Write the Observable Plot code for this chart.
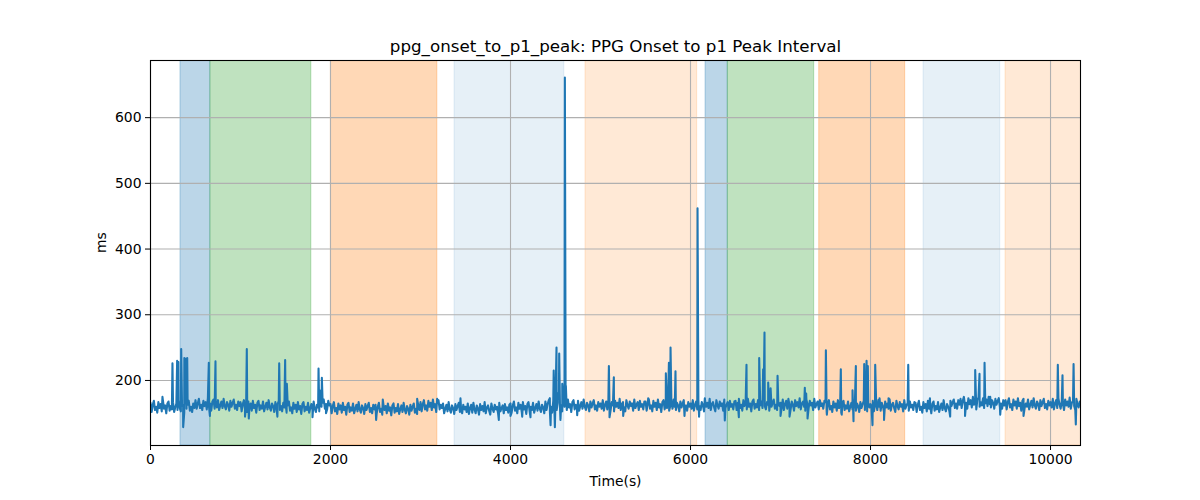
<!DOCTYPE html>
<html><head><meta charset="utf-8">
<script src="https://cdn.jsdelivr.net/npm/d3@7"></script>
<script src="https://cdn.jsdelivr.net/npm/@observablehq/plot@0.6"></script>
<style>body{margin:0;background:#fff;}</style>
</head><body><div id="chart"></div>
<script>
const title = "ppg_onset_to_p1_peak: PPG Onset to p1 Peak Interval";
const xLabel = "Time(s)";
const yLabel = "ms";
const xTicks = [0, 2000, 4000, 6000, 8000, 10000];
const yTicks = [200, 300, 400, 500, 600];

// baseline samples, every 12.5 s (one row = 500 s)
const step = 12.5;
const baseline = [
166,152,163,169,155,160,151,167,158,164,153,170,157,162,150,165,168,154,161,156,167,152,159,165,155,170,158,153,164,160,151,166,157,163,169,154,160,152,165,158,
170,157,165,172,158,163,155,169,161,167,156,173,160,165,154,168,171,157,164,159,170,155,162,168,158,172,161,156,167,163,154,169,160,166,171,157,163,155,168,161,
167,153,164,170,156,161,152,168,159,165,154,169,158,163,151,166,169,155,162,157,168,153,160,166,156,170,159,154,165,161,152,167,158,164,169,155,161,153,166,159,
165,151,162,168,154,159,150,166,157,163,152,167,156,161,149,164,167,153,160,155,166,151,158,164,154,168,157,152,163,159,153,168,160,166,171,157,164,156,169,162,
164,150,161,167,153,158,149,165,156,162,151,166,155,160,148,163,166,152,159,154,165,150,157,163,153,167,156,151,162,158,149,164,155,161,166,152,158,150,163,156,
163,149,160,166,152,157,148,164,155,161,150,165,154,159,147,162,165,151,158,153,164,149,156,162,152,166,155,150,161,157,148,163,154,160,165,151,157,149,162,155,
167,153,164,170,156,162,154,169,160,166,155,171,159,164,152,168,170,156,163,158,165,150,157,163,153,167,156,151,162,158,149,164,155,161,166,152,158,150,163,156,
160,152,165,149,158,163,151,166,156,150,162,157,148,164,155,161,153,167,150,159,162,154,148,165,157,152,163,156,160,149,166,153,158,162,150,164,155,159,151,163,
165,151,162,168,154,159,150,166,157,163,152,167,156,161,149,164,167,153,160,155,166,151,158,164,154,168,157,152,163,159,150,168,155,164,170,153,160,151,169,156,
170,155,166,172,157,162,153,169,160,166,155,171,159,164,152,167,170,156,163,158,169,154,161,167,157,171,160,155,166,162,153,168,159,165,170,156,162,154,167,160,
165,157,170,154,163,168,156,171,161,155,167,162,153,169,160,166,158,172,155,164,167,159,153,170,162,157,168,161,165,154,171,158,163,167,155,169,160,164,156,168,
168,154,165,171,157,162,153,169,160,166,155,171,159,164,152,167,170,156,163,158,169,154,161,167,157,171,160,155,166,162,153,168,159,165,170,156,162,154,167,160,
165,157,170,154,163,168,156,171,161,155,167,162,153,169,160,166,158,172,155,164,167,159,153,170,162,157,168,161,165,154,171,158,163,167,155,169,160,164,156,168,
169,155,166,172,158,163,154,170,161,167,156,172,160,165,153,168,171,157,164,159,170,155,162,168,158,172,161,156,167,163,154,169,160,166,171,157,163,155,168,161,
166,158,171,155,164,169,157,172,162,156,168,163,154,170,161,167,159,173,156,165,168,160,154,171,163,158,169,162,166,155,172,159,164,168,156,170,161,165,157,169,
167,153,164,170,156,161,152,168,159,165,154,170,158,163,151,166,169,155,162,157,168,153,160,166,156,170,159,154,165,161,152,167,158,164,169,155,161,153,166,159,
164,156,169,153,162,167,155,170,160,154,166,161,152,168,159,165,157,171,154,163,166,158,152,169,161,156,167,160,164,153,170,157,162,166,154,168,159,163,155,167,
166,152,163,169,155,160,151,167,158,164,153,169,157,162,150,165,168,154,161,156,167,152,159,165,155,170,158,153,164,160,154,169,161,167,171,158,165,157,170,163,
172,158,169,175,161,166,157,173,164,170,159,175,163,168,156,171,174,160,167,162,173,158,165,171,161,175,164,159,170,166,157,172,163,169,173,159,165,157,170,162,
170,156,167,173,159,164,155,171,162,168,157,173,161,166,154,169,172,158,165,160,171,156,163,169,159,173,162,157,168,164,155,170,161,167,172,158,164,156,169,162,
167,159,172,156,165,170,158,173,163,157,169,164,155,171,162,168,160,174,157,166,169,161,155,172,164,159,168
];

// spikes and dips (time in s, value in ms)
const spikeT = [133,244,296,310,341,363,376,384,392,400,408,648,660,722,1050,1070,1092,1410,1430,1496,1515,
  1800,1867,1880,1904,1950,2507,2581,2963,3185,3444,3870,4000,4130,4222,4437,4445,4480,4493,4511,4525,4541,
  4555,4575,4604,4615,4741,5093,5100,5148,5252,5530,5726,5760,5778,5833,5933,6078,6095,6159,6381,6537,6622,
  6763,6807,6822,6863,6890,6967,7000,7100,7270,7285,7300,7504,7515,7670,7680,7800,7811,7837,7930,7945,7956,
  7970,8022,8052,8100,8150,8200,8419,8660,8885,9050,9163,9211,9267,9330,9441,9700,10081,10133,10256,10281];
const spikeV = [175,226,230,228,248,129,234,165,233,168,234,227,146,229,145,248,142,145,226,231,195,
  144,218,185,204,150,140,171,172,172,173,140,146,145,144,173,132,215,129,250,180,241,
  140,195,661,192,147,222,144,205,146,173,211,227,250,214,146,462,145,173,139,144,224,
  234,217,273,197,188,207,146,145,189,180,142,246,148,217,148,185,138,222,225,200,230,
  222,132,224,173,140,173,224,173,145,146,216,210,227,175,148,146,224,208,225,133];

// shaded segments
const bandStart = [333, 665, 2004, 3378, 4833, 6167, 6414, 7430, 8589, 9500];
const bandEnd   = [665, 1787, 3187, 4598, 6074, 6414, 7374, 8385, 9441, 10400];
const bandColor = ["#1f77b4","#2ca02c","#ff7f0e","#1f77b4","#ff7f0e","#1f77b4","#2ca02c","#ff7f0e","#1f77b4","#ff7f0e"];
const bandAlpha = [0.3, 0.3, 0.3, 0.11, 0.17, 0.3, 0.3, 0.3, 0.11, 0.17];

const data = baseline.map((v, i) => ({t: i * step, v}))
  .concat(spikeT.map((t, i) => ({t, v: spikeV[i]})))
  .sort((a, b) => a.t - b.t);
const bands = bandStart.map((s, i) => ({s, e: bandEnd[i], c: bandColor[i], o: bandAlpha[i]}));

const chart = Plot.plot({
  width: 1200, height: 500,
  marginLeft: 150, marginRight: 120, marginTop: 60, marginBottom: 55,
  style: {fontFamily: "DejaVu Sans", fontSize: "13.9px", color: "black", background: "white"},
  x: {domain: [0, 10333], label: null},
  y: {domain: [101, 687], label: null},
  marks: [
    ...bands.map(b => Plot.rect([b], {x1: "s", x2: "e", fill: b.c, fillOpacity: b.o, stroke: b.c, strokeOpacity: b.o, clip: true})),
    Plot.gridX(xTicks, {stroke: "#b0b0b0", strokeOpacity: 1, strokeWidth: 1.1}),
    Plot.gridY(yTicks, {stroke: "#b0b0b0", strokeOpacity: 1, strokeWidth: 1.1}),
    Plot.line(data, {x: "t", y: "v", stroke: "#1f77b4", strokeWidth: 2.08, clip: true}),
    Plot.frame({stroke: "black", strokeWidth: 1.1}),
    Plot.axisX({ticks: xTicks, tickSize: 5, tickPadding: 4, tickFormat: d3.format("d"), label: null}),
    Plot.axisY({ticks: yTicks, tickSize: 5, tickPadding: 4, tickFormat: d3.format("d"), label: null}),
    Plot.text([xLabel], {frameAnchor: "bottom", dy: 36, lineAnchor: "middle", fontSize: 13.9}),
    Plot.text([yLabel], {frameAnchor: "left", dx: -49, rotate: -90, lineAnchor: "middle", fontSize: 13.9}),
    Plot.text([title], {frameAnchor: "top", dy: -14, lineAnchor: "middle", fontSize: 16.7})
  ]
});
document.getElementById("chart").appendChild(chart);
</script>
</body></html>
